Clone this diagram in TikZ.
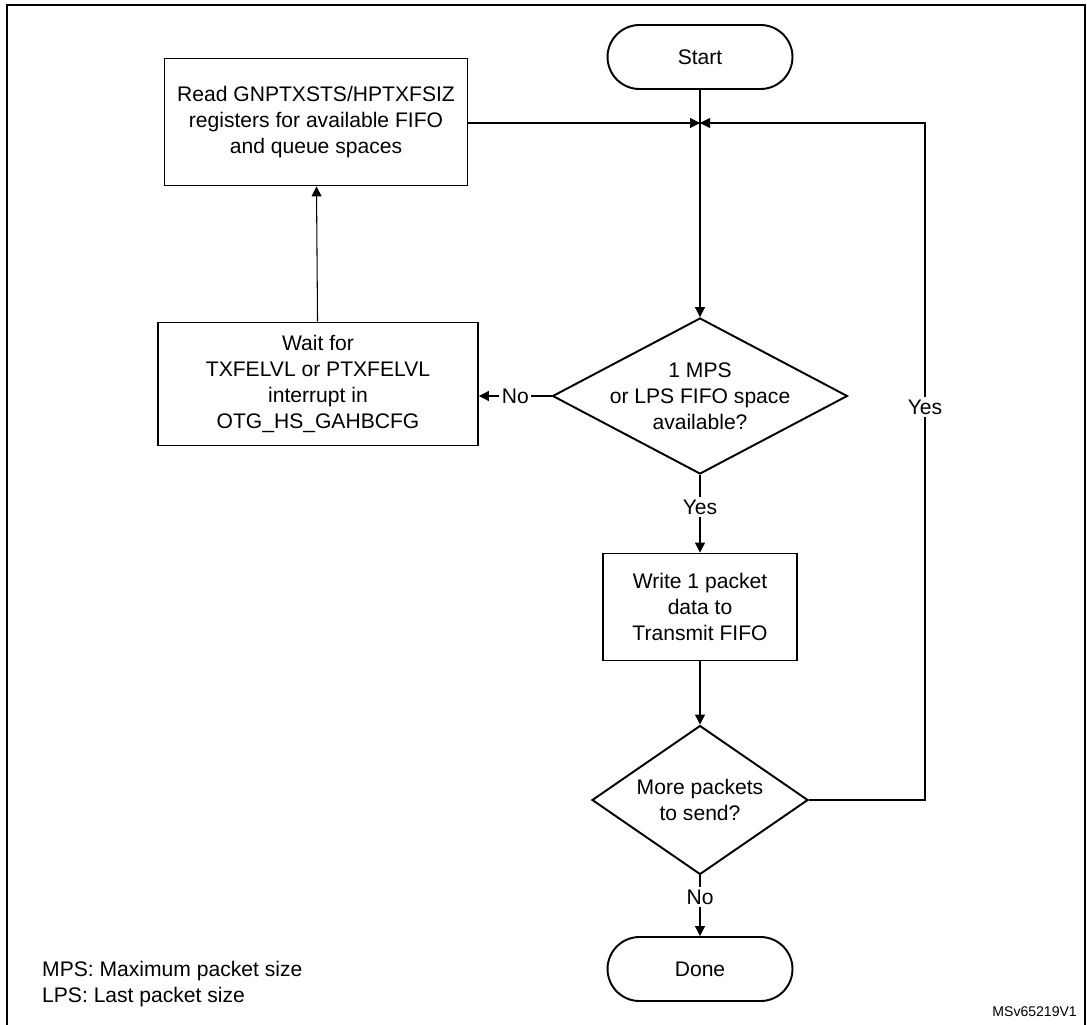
\documentclass[tikz,border=0pt]{standalone}
\usepackage{fontspec}
\setmainfont{Liberation Sans}
\usetikzlibrary{arrows.meta,shapes.geometric}

\begin{document}
\begin{tikzpicture}[x=0.02cm,y=-0.02cm,
	every node/.style={font=\fontsize{12}{14.7}\selectfont, align=center},
	terminal/.style={draw, line width=1.1pt, rounded corners=0.64cm, minimum width=3.7cm, minimum height=1.28cm},
	stepbox/.style={draw, line width=1.1pt, inner sep=2pt},
	decision/.style={draw, diamond, line width=1.1pt, inner sep=-0.45cm},
	flow/.style={-{Triangle[length=0.2cm,width=0.2cm]}, line width=0.6pt},
	lbl/.style={fill=white, inner sep=1.5pt}]
	\useasboundingbox (0,0) rectangle (1087,1024);
	\draw[line width=1.1pt] (7,1040) -- (7,5) -- (1085,5) -- (1085,1040);	%frame

	%nodes
	\node[terminal] (start) at (700,57) {Start};
	\node[stepbox, minimum width=6.06cm, minimum height=2.54cm] (read) at (316,122) {Read GNPTXSTS/HPTXFSIZ\\registers for available FIFO\\and queue spaces};
	\node[decision, aspect=1.9, minimum width=5.9cm, minimum height=3.12cm] (space) at (700,396) {1 MPS\\or LPS FIFO space\\available?};
	\node[stepbox, minimum width=6.4cm, minimum height=2.46cm] (wait) at (318,384) {Wait for\\TXFELVL or PTXFELVL\\interrupt in\\OTG\_HS\_GAHBCFG};
	\node[stepbox, minimum width=3.88cm, minimum height=2.14cm] (write) at (700,607) {Write 1 packet\\data to\\Transmit FIFO};
	\node[decision, aspect=1.45, minimum width=4.32cm, minimum height=2.98cm] (more) at (700,800) {More packets\\to send?};
	\node[terminal] (done) at (700,969) {Done};
	\coordinate (join) at (700,123);
	\coordinate (loop) at (925,123);

	%connectors
	\draw[line width=0.6pt] (start) -- (join);
	\draw[flow] (join) -- (space);
	\draw[flow] (read.east |- join) -- (join);
	\draw[flow] (more.east) -| (loop) -- (join);
	\node[lbl] at (925,407) {Yes};
	\draw[flow] (space.west) -- (space.west -| wait.east) node[pos=0.5, lbl] {No};
	\draw[flow] (wait) -- (read);
	\draw[flow] (space) -- (write) node[lbl] at (700,507) {Yes};
	\draw[flow] (write) -- (more);
	\draw[flow] (more) -- (done) node[lbl] at (700,897) {No};

	%legend
	\node[anchor=west, align=left] (legend) at (36,984) {MPS: Maximum packet size\\LPS: Last packet size};
	\node[anchor=east, font=\fontsize{8}{10}\selectfont] (tag) at (1083,1012) {MSv65219V1};
\end{tikzpicture}
\end{document}
